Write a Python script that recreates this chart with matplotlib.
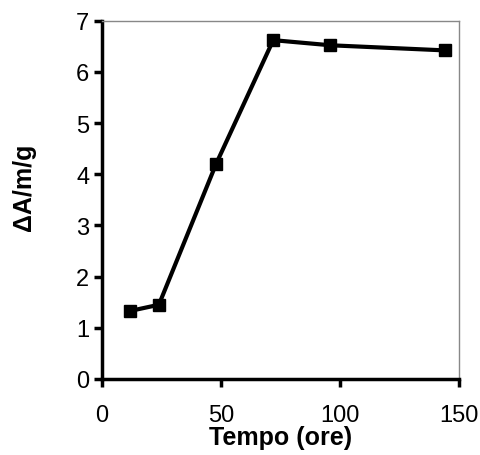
import matplotlib
matplotlib.use('Agg')
import matplotlib.pyplot as plt

# Data
tempo = [12, 24, 48, 72, 96, 144]
delta_a = [1.33, 1.45, 4.2, 6.62, 6.52, 6.42]

plt.rcParams['font.family'] = ['Liberation Sans', 'DejaVu Sans']

fig = plt.figure(figsize=(4.81, 4.56), dpi=100)
ax = fig.add_axes([0.2114, 0.1667, 0.743, 0.7857])

ax.plot(tempo, delta_a, color='black', linewidth=3.0, marker='s', markersize=8)

ax.set_xlim(0, 150)
ax.set_ylim(0, 7)
ax.set_xticks([0, 50, 100, 150])
ax.set_yticks(range(0, 8))

for side in ['left', 'bottom']:
    ax.spines[side].set_linewidth(2.5)
for side in ['top', 'right']:
    ax.spines[side].set_linewidth(1.0)
    ax.spines[side].set_color('#888888')

ax.tick_params(axis='both', direction='out', length=6, width=2.5, labelsize=17)
ax.tick_params(axis='y', pad=3)
ax.tick_params(axis='x', pad=12)

ax.set_xlabel('Tempo (ore)', fontsize=18, fontweight='bold', labelpad=-1)
ax.set_ylabel('ΔA/m/g', fontsize=18, fontweight='bold')
# label sits a little above the axis centre in the reference
ax.yaxis.set_label_coords(-0.185, 0.537)

fig.savefig('out.png', dpi=100)
